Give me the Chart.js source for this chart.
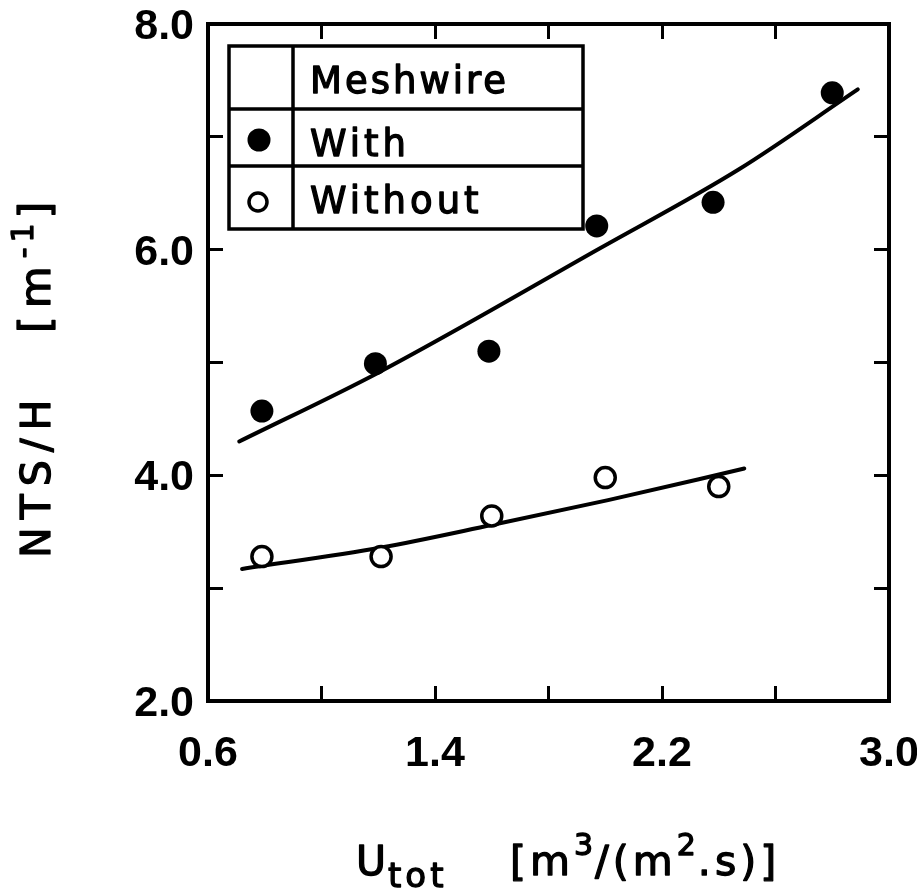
<!DOCTYPE html>
<html>
<head>
<meta charset="utf-8">
<script src="https://cdn.jsdelivr.net/npm/chart.js@4.4.0/dist/chart.umd.min.js"></script>
<style>
html, body { margin: 0; padding: 0; background: #fff; }
#wrap { width: 917px; height: 894px; }
</style>
</head>
<body>
<div id="wrap"><canvas id="graphCanvas" width="917" height="894"></canvas></div>
<script>
// Measured points, with and without meshwire
const xWith = [0.79, 1.19, 1.59, 1.97, 2.38, 2.80];
const yWith = [4.57, 4.99, 5.10, 6.21, 6.42, 7.39];
const xWithout = [0.79, 1.21, 1.60, 2.00, 2.40];
const yWithout = [3.28, 3.28, 3.64, 3.98, 3.90];

const xFitWith = [0.71, 1.20, 1.98, 2.47, 2.89];
const yFitWith = [4.30, 4.91, 6.01, 6.71, 7.42];
const xFitWithout = [0.72, 1.21, 1.60, 2.01, 2.49];
const yFitWithout = [3.17, 3.36, 3.56, 3.78, 4.06];

// Axis ticks; empty label = tick mark only
const xTickValues = [0.6, 1.0, 1.4, 1.8, 2.2, 2.6, 3.0];
const xTickLabels = ['0.6', '', '1.4', '', '2.2', '', '3.0'];
const yTickValues = [2, 3, 4, 5, 6, 7, 8];
const yTickLabels = ['2.0', '', '4.0', '', '6.0', '', '8.0'];

const legendHeader = 'Meshwire';
const seriesLabels = ['With', 'Without'];

const ink = '#000';
const tickFont = { family: 'Liberation Sans', weight: 'bold', size: 43 };
const textFamily = 'DejaVu Sans';

const pts = (xs, ys) => xs.map((x, i) => ({ x: x, y: ys[i] }));

// inward tick marks, no grid lines, heavy frame
function frameGrid() {
    return { display: true, drawOnChartArea: false, drawTicks: true, tickLength: -15, tickWidth: 3, tickColor: ink };
}
const frameBorder = { display: true, width: 4, color: ink };

// fixed box size; label overhang is left to the layout padding
function fixSize(w, h) {
    return s => {
        if (w !== null) s.width = w;
        if (h !== null) s.height = h;
        s.paddingLeft = s.paddingRight = s.paddingTop = s.paddingBottom = 0;
    };
}

// draw a row of text pieces (for sub/superscripts), slightly heavier than Book
function drawRuns(ctx, runs, x, y) {
    ctx.lineWidth = 1.3;
    ctx.strokeStyle = ink;
    ctx.lineJoin = 'round';
    runs.forEach(r => {
        ctx.font = (r.weight || 'normal') + ' ' + r.size + 'px "' + textFamily + '"';
        ctx.letterSpacing = (r.spacing || 0) + 'px';
        ctx.fillText(r.text, x, y + (r.dy || 0));
        ctx.strokeText(r.text, x, y + (r.dy || 0));
        x += ctx.measureText(r.text).width;
    });
    ctx.letterSpacing = '0px';
}

const axisTitles = {
    id: 'axisTitles',
    afterDraw(chart) {
        const ctx = chart.ctx;
        ctx.save();
        ctx.fillStyle = ink;
        ctx.textBaseline = 'alphabetic';
        ctx.textAlign = 'left';
        // x title: U_tot [m3/(m2.s)]
        drawRuns(ctx, [
            { text: 'U', size: 41, spacing: 2 },
            { text: 'tot', size: 34, dy: 12, spacing: 4 }
        ], 356, 875);
        drawRuns(ctx, [
            { text: '[m', size: 41, spacing: 4 },
            { text: '3', size: 30, dy: -20, spacing: 2 },
            { text: '/(m', size: 41, spacing: 4 },
            { text: '2', size: 30, dy: -20, spacing: 2 },
            { text: '.s)]', size: 41, spacing: 4 }
        ], 510, 875);
        // y title: NTS/H [m-1]
        ctx.translate(50, 558);
        ctx.rotate(-Math.PI / 2);
        drawRuns(ctx, [{ text: 'NTS/H', size: 41, spacing: 8 }], 0, 0);
        drawRuns(ctx, [
            { text: '[m', size: 43, spacing: 8 },
            { text: '-1', size: 30, dy: -17, spacing: 5 },
            { text: ']', size: 43 }
        ], 225, 0);
        ctx.restore();
    }
};

// boxed legend table with a header row
const meshwireTable = {
    id: 'meshwireTable',
    afterDraw(chart) {
        const ctx = chart.ctx;
        const ds = chart.data.datasets;
        const left = 229, top = 46, right = 583, bottom = 229, divider = 293;
        const rows = [109, 166];
        ctx.save();
        ctx.strokeStyle = ink;
        ctx.lineWidth = 3.5;
        ctx.fillStyle = '#fff';
        ctx.fillRect(left, top, right - left, bottom - top);
        ctx.strokeRect(left, top, right - left, bottom - top);
        ctx.beginPath();
        ctx.moveTo(divider, top); ctx.lineTo(divider, bottom);
        rows.forEach(y => { ctx.moveTo(left, y); ctx.lineTo(right, y); });
        ctx.stroke();

        ctx.fillStyle = ink;
        ctx.textAlign = 'left';
        ctx.textBaseline = 'alphabetic';
        drawRuns(ctx, [{ text: legendHeader, size: 37, spacing: 3 }], 310, 93);
        drawRuns(ctx, [{ text: ds[0].label, size: 37, spacing: 4 }], 310, 156);
        drawRuns(ctx, [{ text: ds[1].label, size: 37, spacing: 4 }], 310, 213);

        // markers
        ctx.beginPath();
        ctx.arc(259, 140, ds[0].pointRadius, 0, Math.PI * 2);
        ctx.fillStyle = ds[0].backgroundColor;
        ctx.fill();
        ctx.beginPath();
        ctx.arc(258, 202, ds[1].pointRadius - 1, 0, Math.PI * 2);
        ctx.fillStyle = ds[1].backgroundColor;
        ctx.fill();
        ctx.lineWidth = ds[1].borderWidth;
        ctx.strokeStyle = ds[1].borderColor;
        ctx.stroke();
        ctx.restore();
    }
};

const ctx = document.getElementById('graphCanvas').getContext('2d');
const chart = new Chart(ctx, {
    type: 'scatter',
    data: {
        datasets: [
            {
                label: seriesLabels[0],
                data: pts(xWith, yWith),
                pointStyle: 'circle',
                pointRadius: 11.5,
                backgroundColor: ink,
                borderColor: ink,
                borderWidth: 0,
                showLine: false,
                order: 0
            },
            {
                label: seriesLabels[1],
                data: pts(xWithout, yWithout),
                pointStyle: 'circle',
                pointRadius: 10,
                backgroundColor: '#fff',
                borderColor: ink,
                borderWidth: 3.5,
                showLine: false,
                order: 0
            },
            {
                label: 'fit with',
                data: pts(xFitWith, yFitWith),
                showLine: true,
                pointRadius: 0,
                borderColor: ink,
                borderWidth: 4,
                borderCapStyle: 'round',
                cubicInterpolationMode: 'monotone',
                fill: false,
                order: 1
            },
            {
                label: 'fit without',
                data: pts(xFitWithout, yFitWithout),
                showLine: true,
                pointRadius: 0,
                borderColor: ink,
                borderWidth: 4,
                borderCapStyle: 'round',
                cubicInterpolationMode: 'monotone',
                fill: false,
                order: 1
            }
        ]
    },
    options: {
        responsive: false,
        animation: false,
        layout: { padding: { left: 0, top: 24, right: 28, bottom: 0 } },
        scales: {
            x: {
                type: 'linear',
                position: 'bottom',
                min: 0.6,
                max: 3.0,
                afterBuildTicks: s => { s.ticks = xTickValues.map(v => ({ value: v })); },
                afterFit: fixSize(null, 193),
                grid: frameGrid(),
                border: frameBorder,
                ticks: {
                    autoSkip: false,
                    maxRotation: 0,
                    padding: 42,
                    color: ink,
                    font: tickFont,
                    callback: (v, i) => xTickLabels[i]
                }
            },
            xTop: {
                type: 'linear',
                position: 'top',
                min: 0.6,
                max: 3.0,
                afterBuildTicks: s => { s.ticks = xTickValues.map(v => ({ value: v })); },
                afterFit: fixSize(null, 0),
                grid: frameGrid(),
                border: frameBorder,
                ticks: { display: false }
            },
            y: {
                type: 'linear',
                position: 'left',
                min: 2,
                max: 8,
                afterBuildTicks: s => { s.ticks = yTickValues.map(v => ({ value: v })); },
                afterFit: fixSize(208, null),
                grid: frameGrid(),
                border: frameBorder,
                ticks: {
                    autoSkip: false,
                    padding: 29,
                    labelOffset: 3,
                    color: ink,
                    font: tickFont,
                    callback: (v, i) => yTickLabels[i]
                }
            },
            yRight: {
                type: 'linear',
                position: 'right',
                min: 2,
                max: 8,
                afterBuildTicks: s => { s.ticks = yTickValues.map(v => ({ value: v })); },
                afterFit: fixSize(0, null),
                grid: frameGrid(),
                border: frameBorder,
                ticks: { display: false }
            }
        },
        plugins: {
            legend: { display: false },
            tooltip: { enabled: false }
        }
    },
    plugins: [meshwireTable, axisTitles]
});
</script>
</body>
</html>
